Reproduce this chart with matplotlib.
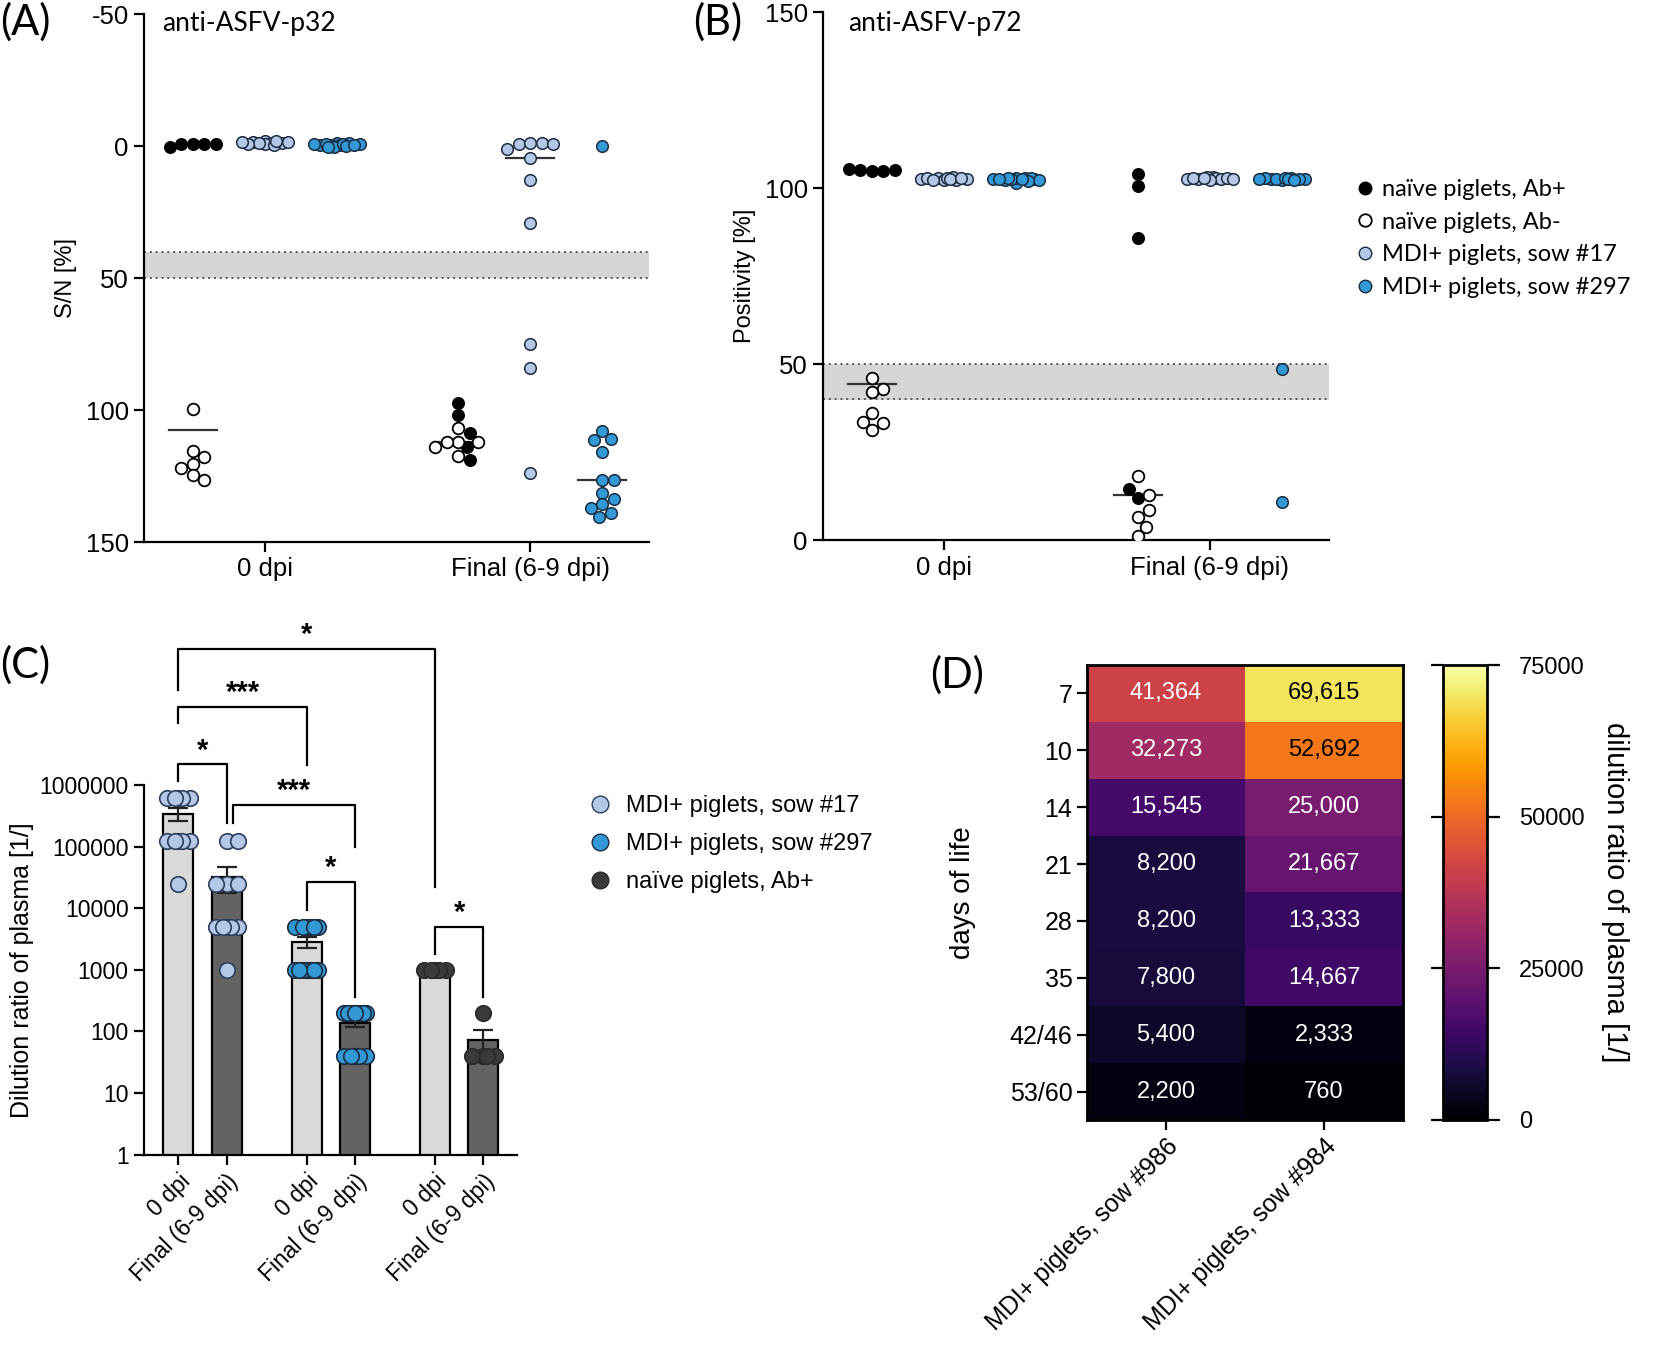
import numpy as np
import matplotlib
matplotlib.use('Agg')
import matplotlib.pyplot as plt
from matplotlib.lines import Line2D

plt.rcParams['font.family'] = ['Liberation Sans', 'DejaVu Sans']
plt.rcParams['axes.unicode_minus'] = False
TITLE_FONT = ['Lato', 'DejaVu Sans']

# ---------------- data ----------------
time_labels = ['0 dpi', 'Final (6-9 dpi)']

# (A) anti-ASFV-p32, S/N [%]; index 0 = 0 dpi, 1 = final
p32_naive_pos = [[-0.8, 0.3, -0.6, -0.7, -0.8],
                 [97.5, 102.0, 108.6, 114.0, 119.1]]
p32_naive_neg = [[99.5, 115.5, 117.8, 120.3, 121.8, 124.8, 126.4],
                 [106.7, 112.0, 112.0, 112.0, 113.9, 117.4]]
p32_sow17 = [[-2.0, -1.6, -1.3, -1.0, -0.8, -1.5, -0.5, -1.8, -1.2, -0.9, -1.4],
             [-1.0, -0.6, -0.6, -1.3, 1.3, 4.4, 12.9, 29.0, 74.9, 84.2, 123.7]]
p32_sow297 = [[-1.2, -0.8, -0.5, -0.2, 0.2, -1.0, -0.6, 0.0, -0.3, -0.9, 0.4, -0.4, -0.7],
              [0.0, 108.0, 110.9, 111.5, 115.9, 126.5, 126.5, 131.3, 133.8, 135.7, 137.0, 138.9, 140.5]]

# (B) anti-ASFV-p72, Positivity [%]
p72_naive_pos = [[105.2, 105.5, 104.8, 105.0, 105.1],
                 [104.0, 100.7, 85.8, 14.5, 11.9]]
p72_naive_neg = [[46.0, 42.9, 42.2, 36.1, 33.7, 33.4, 31.3],
                 [18.3, 12.9, 8.6, 6.7, 3.9, 1.2]]
p72_sow17 = [[102.4, 102.8, 103.1, 102.6, 102.3, 102.9, 102.5, 103.0, 102.7, 102.4, 102.8],
             [103.1, 102.8, 102.5, 103.2, 102.6, 102.9, 102.7, 103.0, 102.4, 102.8, 102.6]]
p72_sow297 = [[102.5, 102.9, 101.6, 102.7, 102.3, 103.0, 102.4, 102.8, 102.6, 102.2, 102.9, 102.5, 102.7],
              [102.5, 102.8, 102.6, 102.9, 102.4, 102.7, 102.5, 102.8, 102.6, 102.7, 102.4, 48.7, 10.9]]

# (C) dilution ratio of plasma
c_tick_labels = ['0 dpi', 'Final (6-9 dpi)'] * 3
c_sow17 = [[625000] * 5 + [125000] * 5 + [25000],
           [125000] * 2 + [25000] * 3 + [5000] * 5 + [1000]]
c_sow297 = [[5000] * 6 + [1000] * 7,
            [200] * 8 + [40] * 5]
c_naive = [[1000] * 5,
           [200, 40, 40, 40, 40]]
c_comparisons = [(0, 4, '*'), (0, 2, '***'), (0, 1, '*'),
                 (1, 3, '***'), (2, 3, '*'), (4, 5, '*')]

# (D) heat map
days = ['7', '10', '14', '21', '28', '35', '42/46', '53/60']
d_sows = ['MDI+ piglets, sow #986', 'MDI+ piglets, sow #984']
titer_986 = [41364, 32273, 15545, 8200, 8200, 7800, 5400, 2200]
titer_984 = [69615, 52692, 25000, 21667, 13333, 14667, 2333, 760]

# ---------------- styles ----------------
col_black = '#000000'
col_light = '#b4c7e7'
col_blue = '#3399d6'
col_edge = '#1b2c40'
col_naive_c = '#3a3a3a'

W, H = 1654, 1353


def swarm(vals, px_y, d_px, half_px):
    # simple beeswarm, returns horizontal offsets in pixels
    ypx = np.asarray(vals, float) * px_y
    order = np.argsort(ypx, kind='stable')
    steps = np.arange(d_px / 4, half_px + 0.01, d_px / 4)
    cands = [0.0]
    for s in steps:
        cands += [s, -s]
    px, py = [], []
    xs = np.zeros(len(ypx))
    for i in order:
        best, best_d = 0.0, -1
        for c in cands:
            dist = np.min(np.hypot(np.array(px) - c, np.array(py) - ypx[i])) if px else np.inf
            if dist >= d_px:
                best = c
                break
            if dist > best_d:
                best, best_d = c, dist
        xs[i] = best
        px.append(best)
        py.append(ypx[i])
    return xs


def style_axis(ax, lw=1.6):
    for s in ['top', 'right']:
        ax.spines[s].set_visible(False)
    for s in ['left', 'bottom']:
        ax.spines[s].set_linewidth(lw)
    ax.tick_params(width=lw, length=7, labelsize=18.5, pad=4)


def dot_panel(ax, naive_pos, naive_neg, sow17, sow297, px_x, px_y):
    off = 0.272
    ms = 70
    for t in range(2):
        # naive column: Ab+ and Ab- share one column
        naive = list(naive_pos[t]) + list(naive_neg[t])
        dx = swarm(naive, px_y, 11.5, 24) / px_x
        n_pos = len(naive_pos[t])
        xc = t - off
        ax.scatter(xc + dx[:n_pos], naive_pos[t], s=ms, c=col_black, edgecolors=col_black,
                   linewidths=1.0, zorder=4)
        ax.scatter(xc + dx[n_pos:], naive_neg[t], s=ms, c='white', edgecolors=col_black,
                   linewidths=1.3, zorder=4)
        ax.plot([xc - 0.09, xc + 0.09], [np.median(naive)] * 2, color='#333333', lw=1.6, zorder=3)
        for k, (vals, fc) in enumerate([(sow17[t], col_light), (sow297[t], col_blue)]):
            xc = t + k * off
            dx = swarm(vals, px_y, 11.5, 24) / px_x
            ax.scatter(xc + dx, vals, s=ms, c=fc, edgecolors=col_edge, linewidths=1.1, zorder=4)
            ax.plot([xc - 0.09, xc + 0.09], [np.median(vals)] * 2, color='#333333', lw=1.6, zorder=3)
    ax.axhspan(40, 50, color='#d6d6d6', lw=0, zorder=1)
    ax.axhline(40, color='#555555', ls=(0, (1, 2)), lw=1.4, zorder=2)
    ax.axhline(50, color='#555555', ls=(0, (1, 2)), lw=1.4, zorder=2)
    ax.set_xticks([0, 1])
    ax.set_xticklabels(time_labels)
    ax.set_xlim(-0.456, 1.448)
    style_axis(ax)


fig = plt.figure(figsize=(W / 100, H / 100), dpi=100)

# ---- (A)
axA = fig.add_axes([144 / W, 1 - 542 / H, (649 - 144) / W, (542 - 14) / H])
dot_panel(axA, p32_naive_pos, p32_naive_neg, p32_sow17, p32_sow297, 265, 132 / 50)
axA.set_ylim(150, -50)
axA.set_yticks([-50, 0, 50, 100, 150])
axA.set_ylabel('S/N [%]', fontsize=17, labelpad=6)
axA.text(162 / W, 1 - 23 / H, 'anti-ASFV-p32', transform=fig.transFigure, fontsize=19,
         family=TITLE_FONT, va='center')

# ---- (B)
axB = fig.add_axes([823 / W, 1 - 540.3 / H, (1329 - 823) / W, (540.3 - 12.3) / H])
dot_panel(axB, p72_naive_pos, p72_naive_neg, p72_sow17, p72_sow297, 266, 176 / 50)
axB.set_ylim(0, 150)
axB.set_yticks([0, 50, 100, 150])
axB.set_ylabel('Positivity [%]', fontsize=17, labelpad=6)
axB.text(848 / W, 1 - 23 / H, 'anti-ASFV-p72', transform=fig.transFigure, fontsize=19,
         family=TITLE_FONT, va='center')

leg_ab = [Line2D([], [], ls='none', marker='o', ms=9, mfc=col_black, mec=col_black),
          Line2D([], [], ls='none', marker='o', ms=9, mfc='white', mec=col_black, mew=1.3),
          Line2D([], [], ls='none', marker='o', ms=9, mfc=col_light, mec=col_edge),
          Line2D([], [], ls='none', marker='o', ms=9, mfc=col_blue, mec=col_edge)]
fig.legend(leg_ab, ['naïve piglets, Ab+', 'naïve piglets, Ab-', 'MDI+ piglets, sow #17',
                    'MDI+ piglets, sow #297'],
           loc='upper left', bbox_to_anchor=(1339 / W, 1 - 167 / H), frameon=False,
           prop={'family': TITLE_FONT, 'size': 17}, handletextpad=0.1, labelspacing=0.5,
           borderpad=0, handlelength=1.2)

# ---- (C)
axC = fig.add_axes([144 / W, 1 - 1154.6 / H, (516.7 - 144) / W, (1154.6 - 785) / H])
c_pos = [0, 1, 2.65, 3.65, 5.3, 6.3]
c_vals = [c_sow17[0], c_sow17[1], c_sow297[0], c_sow297[1], c_naive[0], c_naive[1]]
c_cols = [col_light, col_light, col_blue, col_blue, col_naive_c, col_naive_c]
c_edges = ['#2b3d5c', '#2b3d5c', col_edge, col_edge, '#2a2a2a', '#2a2a2a']
bar_cols = ['#d9d9d9', '#636363'] * 3
means = [np.mean(v) for v in c_vals]
sems = [np.std(v, ddof=1) / np.sqrt(len(v)) for v in c_vals]
axC.set_yscale('log')
axC.bar(c_pos, means, width=0.62, color=bar_cols, edgecolor='black', linewidth=1.6, zorder=2)
axC.errorbar(c_pos, means, yerr=sems, fmt='none', ecolor='#222222', elinewidth=1.6,
             capsize=7, capthick=1.6, zorder=3)
for x, v, fc, ec in zip(c_pos, c_vals, c_cols, c_edges):
    dx = swarm(np.log10(v), 61.6, 15, 13.5) / 48.4
    axC.scatter(x + dx, v, s=125, c=fc, edgecolors=ec, linewidths=1.2, zorder=4)
axC.set_ylim(1, 1e6)
axC.set_xlim(-0.71, 6.99)
axC.set_yticks([1, 10, 100, 1000, 10000, 100000, 1000000])
axC.set_yticklabels(['1', '10', '100', '1000', '10000', '100000', '1000000'])
axC.minorticks_off()
axC.set_xticks(c_pos)
axC.set_xticklabels(c_tick_labels, rotation=45, ha='right', rotation_mode='anchor')
style_axis(axC)
axC.tick_params(labelsize=16.5)
axC.set_ylabel('Dilution ratio of plasma [1/]', fontsize=18, labelpad=4)

# significance brackets (log10 heights: bar line, left leg end, right leg end)
br_levels = [(8.21, 7.55, 4.34), (7.27, 7.01, 6.33), (6.34, 6.07, 5.38),
             (5.68, 5.38, 5.0), (4.43, 3.97, 2.56), (3.70, 3.26, 2.56)]
for (i, j, lab), (top, l_end, r_end) in zip(c_comparisons, br_levels):
    x0 = c_pos[i] + (0.12 if (i, j) == (1, 3) else 0)
    x1 = c_pos[j]
    axC.plot([x0, x0, x1, x1], [10 ** l_end, 10 ** top, 10 ** top, 10 ** r_end],
             color='black', lw=1.6, clip_on=False, zorder=5)
    axC.text((x0 + x1) / 2, 10 ** (top + 0.22), lab, ha='center', va='center',
             fontsize=21, fontweight='bold', clip_on=False)

leg_c = [Line2D([], [], ls='none', marker='o', ms=12, mfc=col_light, mec='#2b3d5c'),
         Line2D([], [], ls='none', marker='o', ms=12, mfc=col_blue, mec=col_edge),
         Line2D([], [], ls='none', marker='o', ms=12, mfc=col_naive_c, mec='#2a2a2a')]
fig.legend(leg_c, ['MDI+ piglets, sow #17', 'MDI+ piglets, sow #297', 'naïve piglets, Ab+'],
           loc='upper left', bbox_to_anchor=(574 / W, 1 - 783 / H), frameon=False,
           prop={'size': 17}, handletextpad=0.5, labelspacing=0.68, borderpad=0,
           handlelength=1.2)

# ---- (D)
axD = fig.add_axes([1087 / W, 1 - 1120 / H, (1403 - 1087) / W, (1120 - 665) / H])
cax = fig.add_axes([1443 / W, 1 - 1120 / H, 44 / W, (1120 - 665) / H])
grid = np.column_stack([titer_986, titer_984])
im = axD.imshow(grid, cmap='inferno', vmin=0, vmax=75000, aspect='auto')
for r in range(grid.shape[0]):
    for c in range(grid.shape[1]):
        v = grid[r, c]
        axD.text(c, r, f'{v:,}', ha='center', va='center', fontsize=17,
                 color='black' if v > 45000 else 'white')
axD.set_yticks(range(len(days)))
axD.set_yticklabels(days)
axD.set_xticks(range(len(d_sows)))
axD.set_xticklabels(d_sows, rotation=45, ha='right', rotation_mode='anchor')
for s in axD.spines.values():
    s.set_linewidth(2)
axD.tick_params(width=1.6, length=7, labelsize=18)
axD.set_ylabel('days of life', fontsize=20, labelpad=24)
cb = fig.colorbar(im, cax=cax, ticks=[0, 25000, 50000, 75000])
cb.outline.set_linewidth(2)
cax.tick_params(left=True, right=True, width=1.6, length=9, labelsize=17, pad=14)
cax.set_ylabel('dilution ratio of plasma [1/]', rotation=270, fontsize=21, labelpad=32)

# panel letters
for lab, x, y in [('(A)', 0, 22), ('(B)', 693, 22), ('(C)', 0, 665), ('(D)', 930, 675)]:
    fig.text(x / W, 1 - y / H, lab, fontsize=30, family=TITLE_FONT, va='center', ha='left')

fig.savefig('out.png', dpi=100)
